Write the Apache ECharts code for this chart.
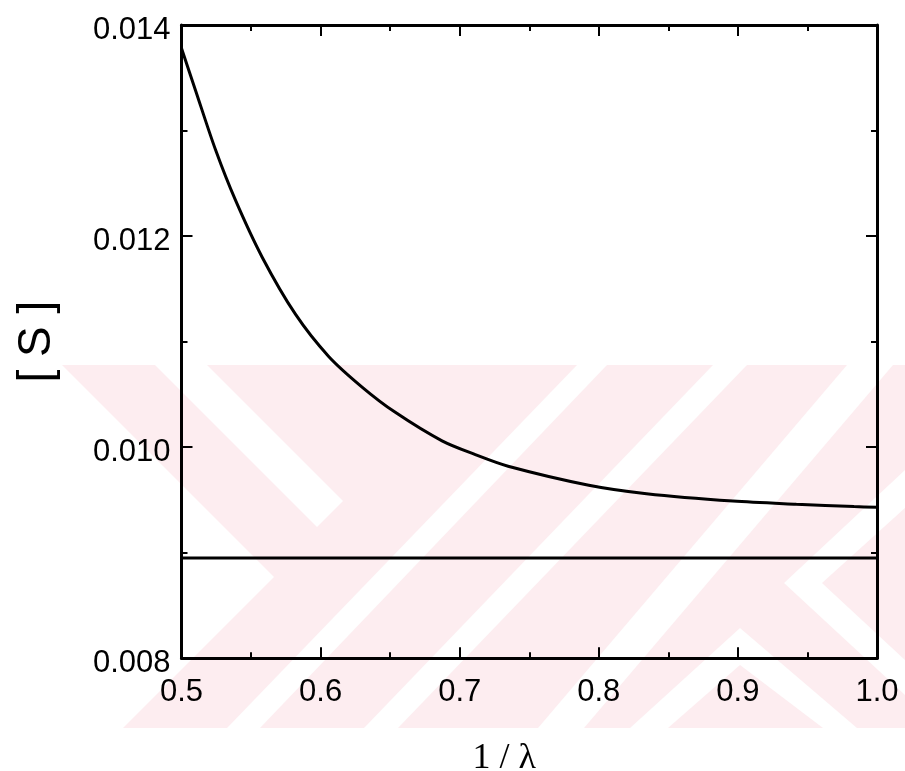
<!DOCTYPE html>
<html>
<head>
<meta charset="utf-8">
<script src="https://cdn.jsdelivr.net/npm/echarts@6/dist/echarts.min.js"></script>
<style>html,body{margin:0;padding:0;background:#fff;}#c{width:905px;height:771px;}</style>
</head>
<body>
<div id="c"></div>
<script>
// Data
const invLambda = [0.5, 0.5101, 0.5244, 0.5388, 0.558, 0.5819, 0.6058, 0.6298, 0.6537, 0.6873, 0.7112, 0.7348, 0.7928, 0.8343, 0.8964, 0.942, 0.9835, 1.0];
const sValues   = [0.01378, 0.01338, 0.01282, 0.01234, 0.01180, 0.01126, 0.01086, 0.01057, 0.01033, 0.01006, 0.00993, 0.00982, 0.00964, 0.00956, 0.00949, 0.00946, 0.009438, 0.00943];
const limitX = [0.5, 1.0];
const limitS = [0.00895, 0.00895];
const xTicks = [0.5, 0.6, 0.7, 0.8, 0.9, 1.0];
const yTicks = [0.008, 0.010, 0.012, 0.014];

const chart = echarts.init(document.getElementById('c'), null, {renderer: 'canvas'});

// faint background watermark (decoration only)
const pink = '#fdedf0';
const wm = [
  {points: [[62,365],[905,365],[905,728],[123,728],[274,577]], fill: pink},
  {points: [[155,365],[207,365],[343,501],[317,527]], fill: '#fff'},
  {points: [[227,728],[260,728],[607,365],[577,365]], fill: '#fff'},
  {points: [[364,728],[398,728],[747,365],[713,365]], fill: '#fff'},
  {points: [[538,728],[584,728],[893,365],[847,365]], fill: '#fff'},
  {points: [[740,628],[630,728],[668,728],[740,665],[823,728],[857,728]], fill: '#fff'},
  {points: [[905,470],[784,583],[905,695],[905,660],[822,583],[905,508]], fill: '#fff'}
];

const axisLineStyle = {color: '#000', width: 3};
const tickStyle = {color: '#000', width: 2};
const labelFont = {color: '#000', fontFamily: 'Liberation Sans', fontSize: 31};

chart.setOption({
  animation: false,
  backgroundColor: '#fff',
  graphic: wm.map(w => ({type: 'polygon', z: -10, silent: true, shape: {points: w.points}, style: {fill: w.fill}})),
  grid: {left: 181.5, right: 28, top: 25, bottom: 112.7, containLabel: false, outerBoundsMode: 'none'},
  xAxis: [{
    type: 'value', min: 0.5, max: 1.0, interval: 0.1, position: 'bottom',
    axisLine: {show: true, lineStyle: axisLineStyle},
    axisTick: {show: true, inside: true, length: 11, lineStyle: tickStyle},
    minorTick: {show: true, splitNumber: 2, length: 6, lineStyle: tickStyle},
    splitLine: {show: false},
    axisLabel: {show: true, margin: 19, formatter: v => v.toFixed(1), ...labelFont},
    name: '1 / \u03bb', nameLocation: 'middle', nameGap: 82,
    nameTextStyle: {color: '#000', fontFamily: 'Liberation Serif', fontSize: 36, padding: [0, 50, 0, 0]}
  }, {
    type: 'value', min: 0.5, max: 1.0, interval: 0.1, position: 'top',
    axisLine: {show: true, lineStyle: axisLineStyle},
    axisTick: {show: true, inside: true, length: 11, lineStyle: tickStyle},
    minorTick: {show: true, splitNumber: 2, length: 6, lineStyle: tickStyle},
    splitLine: {show: false}, axisLabel: {show: false}
  }],
  yAxis: [{
    type: 'value', min: 0.008, max: 0.014, interval: 0.002, position: 'left',
    axisLine: {show: true, lineStyle: axisLineStyle},
    axisTick: {show: true, inside: true, length: 11, lineStyle: tickStyle},
    minorTick: {show: true, splitNumber: 2, length: 6, lineStyle: tickStyle},
    splitLine: {show: false},
    axisLabel: {show: true, margin: 11, verticalAlign: 'top', lineHeight: 10, formatter: v => v.toFixed(3), ...labelFont},
    name: '[ S ]', nameLocation: 'middle', nameGap: 121,
    nameTextStyle: {color: '#000', fontFamily: 'Liberation Sans', fontSize: 46}
  }, {
    type: 'value', min: 0.008, max: 0.014, interval: 0.002, position: 'right',
    axisLine: {show: true, lineStyle: axisLineStyle},
    axisTick: {show: true, inside: true, length: 11, lineStyle: tickStyle},
    minorTick: {show: true, splitNumber: 2, length: 6, lineStyle: tickStyle},
    splitLine: {show: false}, axisLabel: {show: false}
  }],
  series: [{
    type: 'line', xAxisIndex: 0, yAxisIndex: 0,
    data: invLambda.map((x, i) => [x, sValues[i]]),
    smooth: 0.3, showSymbol: false, symbol: 'none',
    lineStyle: {color: '#000', width: 3}
  }, {
    type: 'line', xAxisIndex: 0, yAxisIndex: 0,
    data: limitX.map((x, i) => [x, limitS[i]]),
    showSymbol: false, symbol: 'none',
    lineStyle: {color: '#000', width: 3}
  }]
});
</script>
</body>
</html>
